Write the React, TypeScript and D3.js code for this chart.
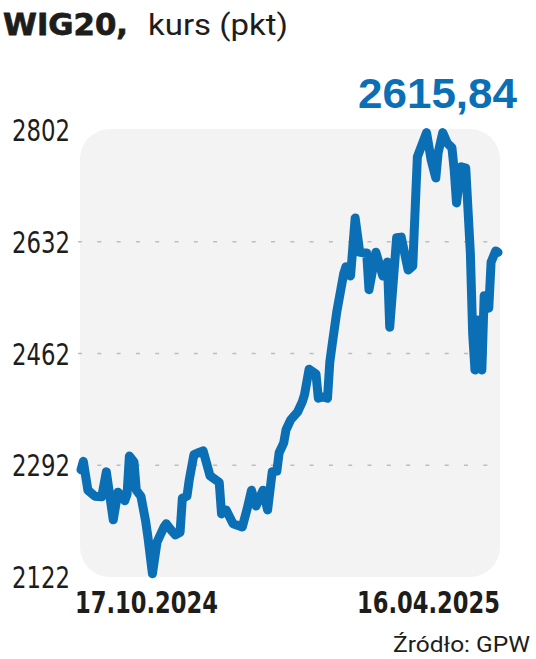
import React from "react";
import * as d3 from "d3";

// days since 17.10.2024 and WIG20 closing values
const days = [0, 1, 3, 6, 9, 11, 14, 16, 17, 19, 20, 21, 23, 24, 26, 28, 29, 31, 33, 36, 37, 39, 41, 43, 44, 46, 47, 49, 51, 53, 56, 60, 61, 63, 66, 70, 72, 74, 76, 79, 81, 83, 85, 86, 88, 89, 91, 94, 96, 97, 99, 102, 103, 105, 107, 108, 109, 111, 114, 115, 117, 119, 121, 124, 125, 128, 131, 133, 134, 137, 139, 142, 144, 146, 150, 152, 154, 155, 157, 159, 161, 162, 163, 165, 167, 169, 170, 171, 172, 174, 175, 177, 178, 180, 181];
const values = [2285, 2298, 2254, 2245, 2244, 2282, 2209, 2251, 2248, 2238, 2248, 2306, 2297, 2254, 2245, 2208, 2184, 2127, 2175, 2198, 2203, 2194, 2186, 2190, 2242, 2245, 2270, 2308, 2311, 2314, 2276, 2266, 2218, 2224, 2203, 2198, 2224, 2254, 2230, 2254, 2224, 2282, 2283, 2311, 2326, 2346, 2361, 2373, 2388, 2399, 2438, 2431, 2394, 2396, 2394, 2449, 2475, 2525, 2583, 2594, 2580, 2668, 2616, 2615, 2559, 2616, 2580, 2601, 2502, 2638, 2639, 2589, 2595, 2761, 2798, 2756, 2729, 2767, 2798, 2782, 2775, 2741, 2691, 2746, 2744, 2615, 2493, 2437, 2513, 2437, 2550, 2531, 2601, 2618, 2615.84];
const yTicks = [2122, 2292, 2462, 2632, 2802];
const gridTicks = [2292, 2462, 2632];
const xLabels = ["17.10.2024", "16.04.2025"];
const lastValue = "2615,84";
const title = "WIG20,";
const subtitle = "kurs (pkt)";
const source = "Źródło: GPW";

const W = 536;
const H = 659;
const BLUE = "#0b6fb5";

export default function App() {
  const x = d3.scaleLinear().domain([0, 181]).range([81, 498]);
  const y = d3.scaleLinear().domain([2122, 2802]).range([577, 130]);
  const data = days.map((d, i) => ({ d, v: values[i] }));
  const line = d3
    .line<{ d: number; v: number }>()
    .x((p) => x(p.d))
    .y((p) => y(p.v));

  const numFont = "'Liberation Sans Narrow', 'DejaVu Sans Condensed', sans-serif";

  return (
    <svg
      width={W}
      height={H}
      style={{ position: "absolute", left: 0, top: 0, background: "#fff" }}
    >
      <text
        x={3}
        y={35}
        fontFamily="'DejaVu Sans', sans-serif"
        fontWeight={700}
        fontSize={31}
        fill="#1d1d1b"
        stroke="#1d1d1b"
        strokeWidth={0.8}
        textLength={125}
        lengthAdjust="spacingAndGlyphs"
      >
        {title}
      </text>
      <text
        x={148}
        y={35}
        fontFamily="Roboto, sans-serif"
        fontWeight={400}
        fontSize={30}
        fill="#1d1d1b"
        textLength={140}
        lengthAdjust="spacingAndGlyphs"
      >
        {subtitle}
      </text>

      <rect x={80} y={129} width={420} height={448} rx={30} ry={30} fill="#f3f3f3" />

      {gridTicks.map((t) => (
        <line
          key={t}
          x1={78}
          x2={500}
          y1={y(t)}
          y2={y(t)}
          stroke="#bdbdbd"
          strokeWidth={1.5}
          strokeDasharray="4 15.3"
        />
      ))}

      {yTicks.map((t) => (
        <text
          key={t}
          x={70}
          y={y(t) + 11}
          textAnchor="end"
          fontFamily={numFont}
          fontSize={30}
          fill="#1d1d1b"
          textLength={58}
          lengthAdjust="spacingAndGlyphs"
        >
          {t}
        </text>
      ))}

      <path
        d={line(data) || ""}
        fill="none"
        stroke={BLUE}
        strokeWidth={9}
        strokeLinejoin="round"
        strokeLinecap="round"
      />

      <text
        x={358}
        y={108}
        fontFamily="'Liberation Sans', sans-serif"
        fontWeight={700}
        fontSize={42}
        fill={BLUE}
        textLength={159}
        lengthAdjust="spacingAndGlyphs"
      >
        {lastValue}
      </text>

      <text
        x={75}
        y={613}
        fontFamily={numFont}
        fontWeight={700}
        fontSize={30}
        fill="#1d1d1b"
        textLength={143}
        lengthAdjust="spacingAndGlyphs"
      >
        {xLabels[0]}
      </text>
      <text
        x={500}
        y={613}
        textAnchor="end"
        fontFamily={numFont}
        fontWeight={700}
        fontSize={30}
        fill="#1d1d1b"
        textLength={143}
        lengthAdjust="spacingAndGlyphs"
      >
        {xLabels[1]}
      </text>

      <text
        x={530}
        y={652}
        textAnchor="end"
        fontFamily="Roboto, sans-serif"
        fontWeight={400}
        fontSize={22}
        fill="#1d1d1b"
        textLength={137}
        lengthAdjust="spacingAndGlyphs"
      >
        {source}
      </text>
    </svg>
  );
}
